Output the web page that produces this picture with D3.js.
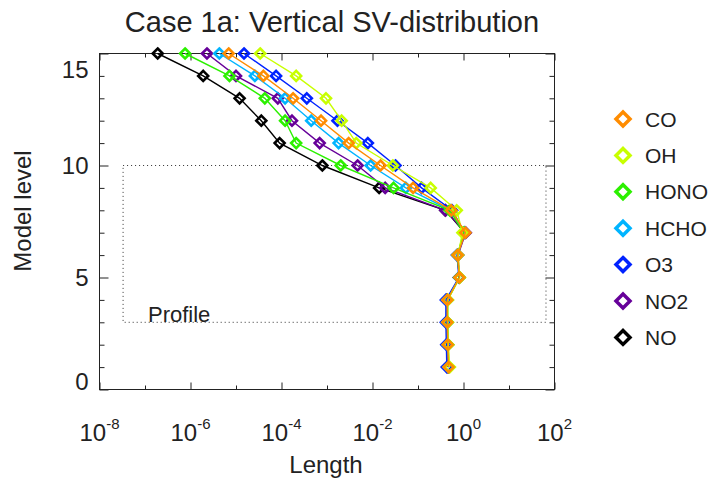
<!DOCTYPE html>
<html>
<head>
<meta charset="utf-8">
<script src="https://cdn.jsdelivr.net/npm/d3@7"></script>
<style>
  body { margin: 0; background: #fff; }
  svg { display: block; }
  text { font-family: "Liberation Sans", Arial, Helvetica, sans-serif; fill: #222; }
</style>
</head>
<body>
<svg id="chart" width="710" height="480"></svg>
<script>
// Model levels, top to bottom
const levels = [15, 14, 13, 12, 11, 10, 9, 8, 7, 6, 5, 4, 3, 2, 1];

// Singular-vector length per level for each species
const lenCO   = [6.9e-6, 4.0e-5, 1.8e-4, 7.4e-4, 3.0e-3, 1.5e-2, 7.8e-2, 0.54, 1.10, 0.74, 0.81, 0.44, 0.44, 0.45, 0.47];
const lenOH   = [3.4e-5, 2.1e-4, 9.5e-4, 2.1e-3, 4.4e-3, 2.8e-2, 0.19, 0.71, 0.95, 0.76, 0.83, 0.45, 0.45, 0.46, 0.50];
const lenHONO = [7.6e-7, 7.2e-6, 4.3e-5, 1.2e-4, 2.1e-4, 2.0e-3, 2.9e-2, 0.50, 1.00, 0.74, 0.81, 0.45, 0.45, 0.46, 0.48];
const lenHCHO = [4.3e-6, 2.6e-5, 1.2e-4, 4.5e-4, 1.8e-3, 9.1e-3, 5.4e-2, 0.52, 1.07, 0.74, 0.81, 0.44, 0.44, 0.45, 0.47];
const lenO3   = [1.5e-5, 7.6e-5, 3.6e-4, 1.7e-3, 7.9e-3, 3.2e-2, 0.12, 0.56, 1.07, 0.72, 0.79, 0.41, 0.41, 0.42, 0.43];
const lenNO2  = [2.3e-6, 1.0e-5, 8.3e-5, 1.7e-4, 6.9e-4, 4.7e-3, 1.9e-2, 0.40, 1.12, 0.76, 0.81, 0.43, 0.44, 0.45, 0.46];
const lenNO   = [1.9e-7, 1.9e-6, 1.2e-5, 3.6e-5, 9.1e-5, 7.9e-4, 1.4e-2, 0.40, 1.07, 0.74, 0.81, 0.43, 0.43, 0.44, 0.46];

const speciesNames  = ["CO", "OH", "HONO", "HCHO", "O3", "NO2", "NO"];
const speciesValues = [lenCO, lenOH, lenHONO, lenHCHO, lenO3, lenNO2, lenNO];
const speciesColors = ["#ff8c00", "#c8ff00", "#2cf000", "#00b4ff", "#0022ff", "#660099", "#000000"];

// Axis ticks
const xTickExponents = [-8, -7, -6, -5, -4, -3, -2, -1, 0, 1, 2];
const xLabelExponents = [-8, -6, -4, -2, 0, 2];
const yTickValues = [0, 1, 2, 3, 4, 5, 6, 7, 8, 9, 10, 11, 12, 13, 14, 15];
const yLabelValues = [0, 5, 10, 15];

// Profile region (length range, level range)
const profileLength = [3.3e-8, 65];
const profileLevels = [3, 10];

const svg = d3.select("#chart");
const plot = { left: 99.5, right: 554.5, top: 53.5, bottom: 389.5 };

const x = d3.scaleLog().domain([1e-8, 1e2]).range([plot.left, plot.right]);
const y = d3.scaleLinear().domain([0, 15]).range([plot.bottom, plot.top]);

const frameColor = "#222";

// Title
svg.append("text")
  .attr("x", 332).attr("y", 32)
  .attr("text-anchor", "middle")
  .style("font-size", "29px")
  .text("Case 1a: Vertical SV-distribution");

// Axes: ticks point inward, longer at labelled positions
function styleAxis(g) {
  g.select(".domain").remove();
  g.selectAll(".tick line").attr("stroke", frameColor).attr("stroke-width", 1);
}

const xTicks = xTickExponents.map(e => Math.pow(10, e));
const isXMajor = v => xLabelExponents.includes(Math.round(Math.log10(v)));

const gBottom = svg.append("g").attr("transform", `translate(0,${plot.bottom})`)
  .call(d3.axisBottom(x).tickValues(xTicks).tickSize(0).tickPadding(0).tickFormat(""));
styleAxis(gBottom);
gBottom.selectAll(".tick line").attr("y2", d => isXMajor(d) ? -7 : -4);
gBottom.selectAll(".tick text").remove();

const gTop = svg.append("g").attr("transform", `translate(0,${plot.top})`)
  .call(d3.axisTop(x).tickValues(xTicks).tickSize(0).tickFormat(""));
styleAxis(gTop);
gTop.selectAll(".tick line").attr("y2", d => isXMajor(d) ? 7 : 4);
gTop.selectAll(".tick text").remove();

// x tick labels as powers of ten
const xLab = svg.append("g");
xLabelExponents.forEach(e => {
  const t = xLab.append("text")
    .attr("x", x(Math.pow(10, e)))
    .attr("y", 441)
    .attr("text-anchor", "middle")
    .style("font-size", "24px");
  t.append("tspan").text("10");
  t.append("tspan").attr("dy", -12).style("font-size", "15px").text(String(e));
});

const isYMajor = v => yLabelValues.includes(v);

const gLeft = svg.append("g").attr("transform", `translate(${plot.left},0)`)
  .call(d3.axisLeft(y).tickValues(yTickValues).tickSize(0).tickPadding(11)
    .tickFormat(d => isYMajor(d) ? String(d) : ""));
styleAxis(gLeft);
gLeft.selectAll(".tick line").attr("x2", d => isYMajor(d) ? 9 : 5);
gLeft.selectAll(".tick text")
  .style("font-size", "24px")
  .attr("fill", "#222")
  .attr("dy", d => d === 15 ? "1.0em" : d === 0 ? "0.0em" : "0.35em");

const gRight = svg.append("g").attr("transform", `translate(${plot.right},0)`)
  .call(d3.axisRight(y).tickValues(yTickValues).tickSize(0).tickFormat(""));
styleAxis(gRight);
gRight.selectAll(".tick line").attr("x2", d => isYMajor(d) ? -9 : -5);
gRight.selectAll(".tick text").remove();

// Frame
svg.append("rect")
  .attr("x", plot.left).attr("y", plot.top)
  .attr("width", plot.right - plot.left).attr("height", plot.bottom - plot.top)
  .attr("fill", "none").attr("stroke", frameColor).attr("stroke-width", 1);

// Profile region
svg.append("rect")
  .attr("x", x(profileLength[0])).attr("y", y(profileLevels[1]))
  .attr("width", x(profileLength[1]) - x(profileLength[0]))
  .attr("height", y(profileLevels[0]) - y(profileLevels[1]))
  .attr("fill", "none").attr("stroke", "#333").attr("stroke-width", 1)
  .attr("stroke-dasharray", "1,3");

svg.append("text")
  .attr("x", 148).attr("y", 322)
  .style("font-size", "22px")
  .text("Profile");

// Axis titles
svg.append("text")
  .attr("x", 326).attr("y", 473)
  .attr("text-anchor", "middle")
  .style("font-size", "24px")
  .text("Length");

svg.append("text")
  .attr("transform", "translate(31,211) rotate(-90)")
  .attr("text-anchor", "middle")
  .style("font-size", "24px")
  .text("Model level");

// Series: drawn from NO upward so CO ends on top
const diamond = (cx, cy, r) => `M${cx},${cy - r}L${cx + r},${cy}L${cx},${cy + r}L${cx - r},${cy}Z`;
const line = d3.line().x(d => x(d.v)).y(d => y(d.lev));

const order = d3.range(speciesNames.length).reverse();
order.forEach(i => {
  const pts = levels.map((lev, k) => ({ lev, v: speciesValues[i][k] }));
  const g = svg.append("g");
  g.append("path").datum(pts)
    .attr("d", line)
    .attr("fill", "none")
    .attr("stroke", speciesColors[i])
    .attr("stroke-width", 1.4);
  g.selectAll("path.m").data(pts).enter().append("path")
    .attr("class", "m")
    .attr("d", d => diamond(x(d.v), y(d.lev), 5))
    .attr("fill", "none")
    .attr("stroke", speciesColors[i])
    .attr("stroke-width", 2.6);
});

// Legend
const legend = svg.append("g");
speciesNames.forEach((name, i) => {
  const cy = 119 + i * 36.4;
  legend.append("path")
    .attr("d", diamond(623, cy, 7))
    .attr("fill", "none")
    .attr("stroke", speciesColors[i])
    .attr("stroke-width", 3.5);
  legend.append("text")
    .attr("x", 645).attr("y", cy + 7.5)
    .style("font-size", "21px")
    .text(name);
});
</script>
</body>
</html>
